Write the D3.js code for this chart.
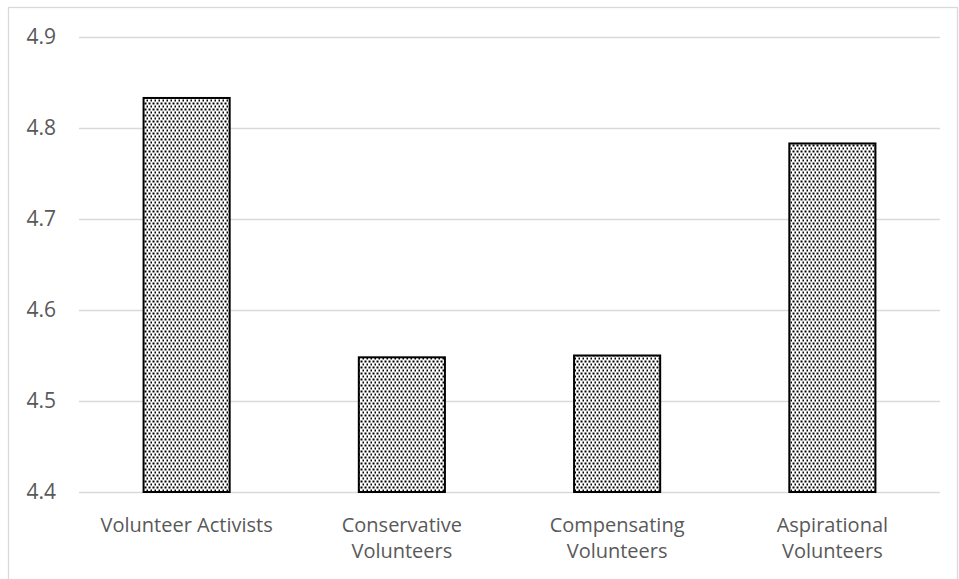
<!DOCTYPE html>
<html>
<head>
<meta charset="utf-8">
<script src="https://cdn.jsdelivr.net/npm/d3@7"></script>
<style>
  html, body { margin: 0; padding: 0; background: #fff; }
  svg { display: block; }
  text { font-family: "Open Sans", "Noto Sans", sans-serif; fill: #595959; }
</style>
</head>
<body>
<svg id="chart" width="959" height="579"></svg>
<script>
// Mean scores by volunteer segment
const categories = [
  ["Volunteer Activists"],
  ["Conservative", "Volunteers"],
  ["Compensating", "Volunteers"],
  ["Aspirational", "Volunteers"]
];
const values = [4.833, 4.548, 4.550, 4.783];
const yTicks = [4.4, 4.5, 4.6, 4.7, 4.8, 4.9];

const svg = d3.select("#chart");
const W = 959, H = 579;
const margin = { left: 79, right: 19, top: 37, bottom: 87 };

// outer chart frame
svg.append("rect")
  .attr("x", 8.5).attr("y", 7.5)
  .attr("width", W - 10).attr("height", H + 10)
  .attr("fill", "none").attr("stroke", "#d9d9d9").attr("stroke-width", 1.3);

// dotted fill pattern
const defs = svg.append("defs");
const pat = defs.append("pattern")
  .attr("id", "dots").attr("patternUnits", "userSpaceOnUse")
  .attr("width", 4).attr("height", 6);
pat.append("rect").attr("width", 4).attr("height", 6).attr("fill", "#fff");
pat.append("rect").attr("x", 0.5).attr("y", 0.5).attr("width", 2).attr("height", 2).attr("fill", "#000");
pat.append("rect").attr("x", 2.5).attr("y", 3.5).attr("width", 2).attr("height", 2).attr("fill", "#000");

const x = d3.scaleBand()
  .domain(d3.range(categories.length))
  .range([margin.left, W - margin.right])
  .paddingInner(0.6).paddingOuter(0.3);

const y = d3.scaleLinear()
  .domain([4.4, 4.9])
  .range([H - margin.bottom, margin.top]);

// gridlines
svg.append("g").selectAll("line").data(yTicks).join("line")
  .attr("x1", margin.left).attr("x2", W - margin.right)
  .attr("y1", d => Math.round(y(d)) + 0.5).attr("y2", d => Math.round(y(d)) + 0.5)
  .attr("stroke", "#d9d9d9").attr("stroke-width", 1.3);

// y axis labels
const yAxis = d3.axisLeft(y).tickValues(yTicks).tickFormat(d3.format(".1f")).tickSize(0).tickPadding(0);
const ya = svg.append("g").attr("transform", `translate(56,0)`).call(yAxis);
ya.select(".domain").remove();
ya.selectAll("text").attr("font-size", 21).style("fill", "#595959")
  .style("font-family", "'Open Sans', sans-serif");

// bars
svg.append("g").selectAll("rect").data(values).join("rect")
  .attr("x", (d, i) => x(i))
  .attr("y", d => y(d))
  .attr("width", x.bandwidth())
  .attr("height", d => y(4.4) - y(d))
  .attr("fill", "url(#dots)")
  .attr("stroke", "#000").attr("stroke-width", 2);

// category labels
const lab = svg.append("g").selectAll("text").data(categories).join("text")
  .attr("text-anchor", "middle")
  .attr("font-size", 20)
  .attr("x", (d, i) => x(i) + x.bandwidth() / 2)
  .attr("y", 532);
lab.selectAll("tspan").data(d => d).join("tspan")
  .attr("x", function() { return d3.select(this.parentNode).attr("x"); })
  .attr("dy", (d, i) => i === 0 ? 0 : 26)
  .text(d => d);
</script>
</body>
</html>
